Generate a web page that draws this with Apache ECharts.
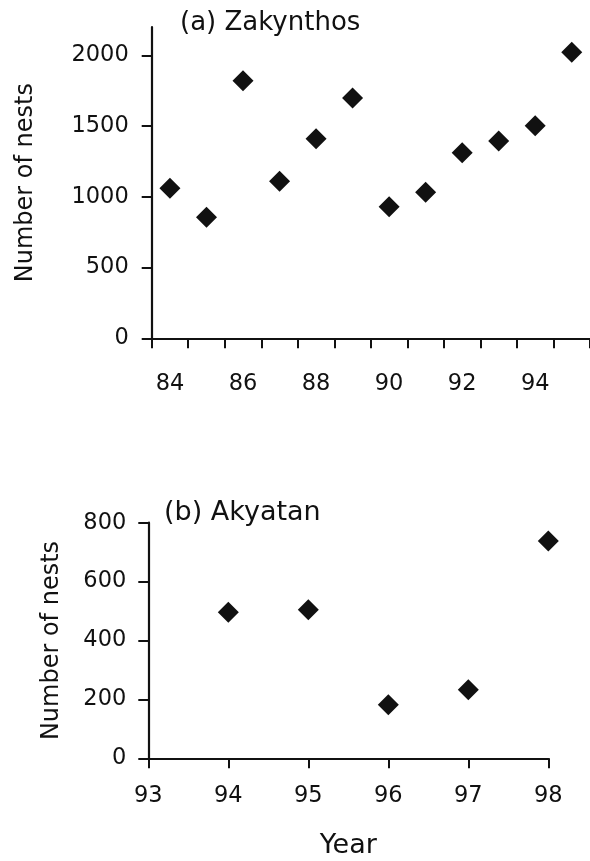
<!DOCTYPE html>
<html>
<head>
<meta charset="utf-8">
<script src="https://cdn.jsdelivr.net/npm/echarts@6/dist/echarts.min.js"></script>
<style>
html,body{margin:0;padding:0;background:#fff;}
#chart{width:590px;height:861px;}
</style>
</head>
<body>
<div id="chart"></div>
<script>
// Panel (a) Zakynthos
var zakYears = ['84','85','86','87','88','89','90','91','92','93','94','95'];
var zakNests = [1060, 855, 1820, 1110, 1410, 1698, 929, 1032, 1312, 1395, 1502, 2022];
var zakYTicks = [0, 500, 1000, 1500, 2000];
// Panel (b) Akyatan
var akyYears = [94, 95, 96, 97, 98];
var akyNests = [496, 504, 182, 233, 738];
var akyYTicks = [0, 200, 400, 600, 800];

var FONT = 'DejaVu Sans';
var INK = '#111';

var chart = echarts.init(document.getElementById('chart'), null, {renderer: 'canvas'});

var axisLine = {show: true, lineStyle: {color: INK, width: 2.2}};
var tickStyle = {color: INK, width: 2};
function plain(v) { return String(v); }

chart.setOption({
  animation: false,
  backgroundColor: '#fff',
  title: [
    {text: '(a) Zakynthos', left: 180, top: 10, padding: 0,
     textStyle: {fontFamily: FONT, fontSize: 26, fontWeight: 'normal', color: INK}},
    {text: '(b) Akyatan', left: 164, top: 499, padding: 0,
     textStyle: {fontFamily: FONT, fontSize: 27, fontWeight: 'normal', color: INK}}
  ],
  grid: [
    {left: 151.7, top: 27, width: 442, height: 311.3},
    {left: 148.3, top: 522.7, width: 400, height: 235.6}
  ],
  xAxis: [
    {gridIndex: 0, type: 'category', data: zakYears, boundaryGap: true,
     axisLine: axisLine,
     axisTick: {show: true, interval: 0, alignWithLabel: false, length: 10, lineStyle: tickStyle},
     axisLabel: {interval: 1, margin: 34, fontFamily: FONT, fontSize: 22.5, color: INK},
     splitLine: {show: false}},
    {gridIndex: 1, type: 'value', min: 93, max: 98, interval: 1,
     name: 'Year', nameLocation: 'middle', nameGap: 74,
     nameTextStyle: {fontFamily: FONT, fontSize: 27, color: INK},
     axisLine: axisLine,
     axisTick: {show: true, length: 10, lineStyle: tickStyle},
     axisLabel: {margin: 26, fontFamily: FONT, fontSize: 22.5, color: INK, formatter: plain},
     splitLine: {show: false}}
  ],
  yAxis: [
    {gridIndex: 0, type: 'value', min: 0, max: 2200,
     name: 'Number of nests', nameLocation: 'middle', nameGap: 114, nameRotate: 90,
     nameTextStyle: {fontFamily: FONT, fontSize: 24, color: INK},
     axisLine: axisLine,
     axisTick: {show: true, length: 10, lineStyle: tickStyle, customValues: zakYTicks},
     axisLabel: {margin: 23, fontFamily: FONT, fontSize: 22.5, color: INK, customValues: zakYTicks, formatter: plain},
     splitLine: {show: false}},
    {gridIndex: 1, type: 'value', min: 0, max: 800, interval: 200,
     name: 'Number of nests', nameLocation: 'middle', nameGap: 85, nameRotate: 90,
     nameTextStyle: {fontFamily: FONT, fontSize: 24, color: INK},
     axisLine: axisLine,
     axisTick: {show: true, length: 10, lineStyle: tickStyle},
     axisLabel: {margin: 22, fontFamily: FONT, fontSize: 22.5, color: INK, formatter: plain},
     splitLine: {show: false}}
  ],
  series: [
    {type: 'scatter', xAxisIndex: 0, yAxisIndex: 0, symbol: 'diamond', symbolSize: 21,
     itemStyle: {color: INK, opacity: 1},
     data: zakNests},
    {type: 'scatter', xAxisIndex: 1, yAxisIndex: 1, symbol: 'diamond', symbolSize: 21,
     itemStyle: {color: INK, opacity: 1},
     data: akyYears.map(function (y, i) { return [y, akyNests[i]]; })}
  ]
});
</script>
</body>
</html>
